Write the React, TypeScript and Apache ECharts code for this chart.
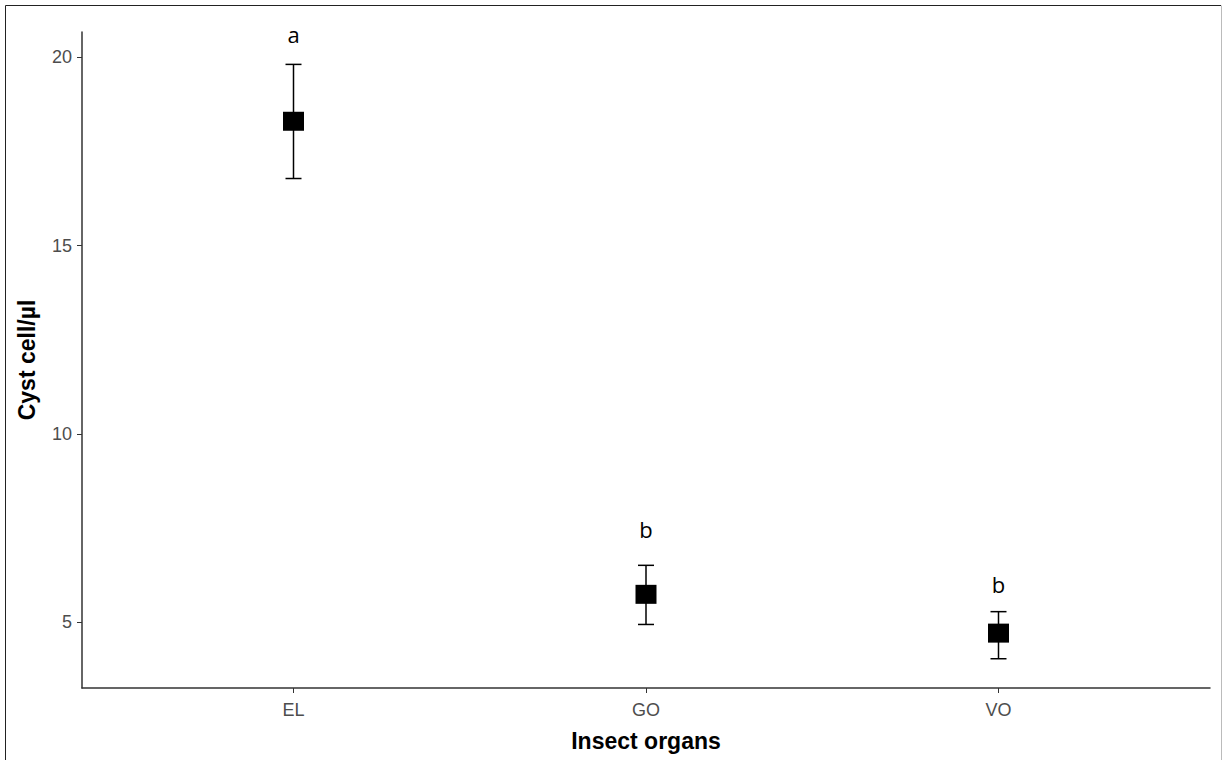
import React, { useEffect, useRef } from 'react';
import * as echarts from 'echarts';

const categories = ['EL', 'GO', 'VO'];
const xPositions = [1, 2, 3];
const means = [18.3, 5.74, 4.71];
const upper = [19.81, 6.51, 5.28];
const lower = [16.78, 4.94, 4.03];
const letters = ['a', 'b', 'b'];
const letterY = [20.62, 7.48, 6.02];
const yTicks = [5, 10, 15, 20];

export default function App() {
  const ref = useRef<HTMLDivElement>(null);
  useEffect(() => {
    const chart = echarts.init(ref.current!, null, { renderer: 'svg' });
    const axisColor = '#333333';
    const labelColor = '#4d4d4d';
    chart.setOption({
      animation: false,
      backgroundColor: '#ffffff',
      grid: { left: 82, right: 12, top: 32, bottom: 72, containLabel: false, outerBoundsMode: 'none' },
      graphic: [
        {
          type: 'polyline',
          shape: { points: [[5.5, 760], [5.5, 5.5], [1221, 5.5]] },
          style: { fill: 'none', stroke: '#222', lineWidth: 1 },
          silent: true,
          z: -1,
        },
        {
          type: 'line',
          shape: { x1: 1221.5, y1: 5.5, x2: 1221.5, y2: 760 },
          style: { stroke: '#bbb', lineWidth: 1 },
          silent: true,
          z: -1,
        },
      ],
      xAxis: {
        type: 'value',
        min: 0.4,
        max: 3.6,
        splitLine: { show: false },
        axisLine: { show: true, lineStyle: { color: axisColor, width: 1.5 } },
        axisTick: { show: true, customValues: xPositions, length: 5, lineStyle: { color: axisColor, width: 1 } },
        axisLabel: {
          customValues: xPositions,
          formatter: (v: number) => categories[Math.round(v) - 1] ?? '',
          color: labelColor,
          fontSize: 18,
          fontFamily: 'Liberation Sans',
          margin: 13,
        },
        name: 'Insect organs',
        nameLocation: 'middle',
        nameGap: 41,
        nameTextStyle: { fontSize: 23, fontWeight: 'bold', color: '#000', fontFamily: 'Liberation Sans' },
      },
      yAxis: {
        type: 'value',
        min: 3.253,
        max: 20.67,
        splitLine: { show: false },
        axisLine: { show: true, lineStyle: { color: axisColor, width: 1.5 } },
        axisTick: { show: true, customValues: yTicks, length: 5, lineStyle: { color: axisColor, width: 1 } },
        axisLabel: {
          customValues: yTicks,
          color: labelColor,
          fontSize: 18,
          fontFamily: 'Liberation Sans',
          margin: 10,
        },
        name: 'Cyst cell/µl',
        nameLocation: 'middle',
        nameGap: 44,
        nameTextStyle: { fontSize: 23, fontWeight: 'bold', color: '#000', fontFamily: 'Liberation Sans' },
      },
      series: [
        {
          type: 'custom',
          data: xPositions.map((x, i) => [x, upper[i], lower[i]]),
          encode: { x: 0, y: [1, 2] },
          renderItem: (params: any, api: any) => {
            const x = api.value(0);
            const hi = api.coord([x, api.value(1)]);
            const lo = api.coord([x, api.value(2)]);
            const cap = 8;
            const style = { stroke: '#000', lineWidth: 1.5 };
            return {
              type: 'group',
              children: [
                { type: 'line', shape: { x1: hi[0], y1: hi[1], x2: lo[0], y2: lo[1] }, style },
                { type: 'line', shape: { x1: hi[0] - cap, y1: hi[1], x2: hi[0] + cap, y2: hi[1] }, style },
                { type: 'line', shape: { x1: lo[0] - cap, y1: lo[1], x2: lo[0] + cap, y2: lo[1] }, style },
              ],
            };
          },
          z: 2,
        },
        {
          type: 'scatter',
          data: xPositions.map((x, i) => [x, means[i]]),
          symbol: 'rect',
          symbolSize: [21, 19],
          itemStyle: { color: '#000', opacity: 1 },
          emphasis: { disabled: true },
          z: 3,
        },
        {
          type: 'custom',
          data: xPositions.map((x, i) => [x, letterY[i]]),
          encode: { x: 0, y: 1 },
          renderItem: (params: any, api: any) => {
            const p = api.coord([api.value(0), api.value(1)]);
            return {
              type: 'text',
              x: p[0],
              y: p[1],
              style: {
                text: letters[params.dataIndex],
                fontSize: 22,
                fontFamily: 'Open Sans',
                fill: '#000',
                align: 'center',
                verticalAlign: 'middle',
              },
            };
          },
          z: 4,
        },
      ],
    });
    return () => chart.dispose();
  }, []);
  return (
    <div
      ref={ref}
      style={{ position: 'fixed', left: 0, top: 0, width: 1222, height: 760, background: '#fff' }}
    />
  );
}
